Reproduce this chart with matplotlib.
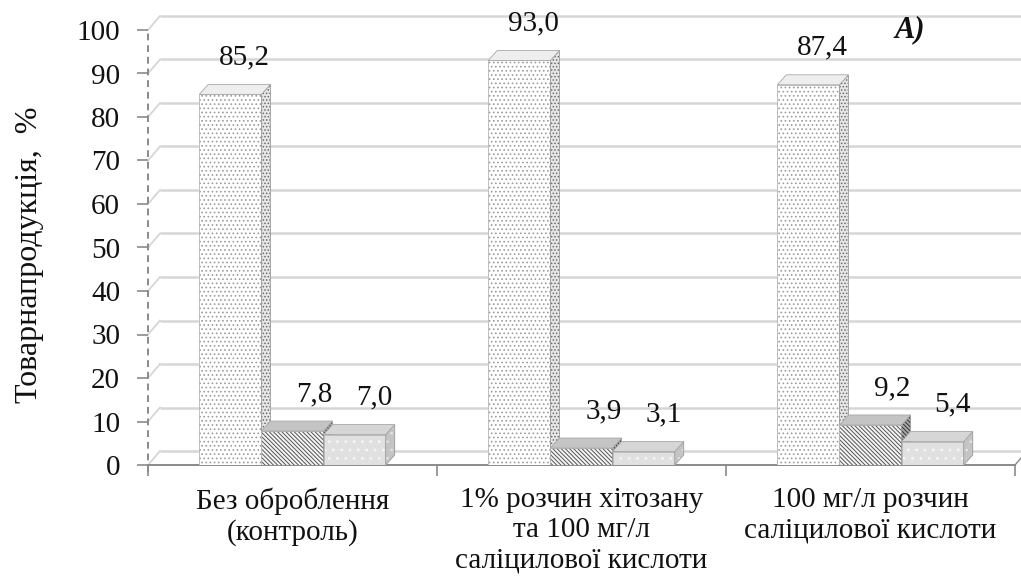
import matplotlib
matplotlib.use('Agg')
import matplotlib.pyplot as plt
from matplotlib.patches import Polygon, Rectangle

# ---- data ----
categories = ['Без оброблення\n(контроль)',
              '1% розчин хітозану\nта 100 мг/л\nсаліцилової кислоти',
              '100 мг/л розчин\nсаліцилової кислоти']
series_a = [85.2, 93.0, 87.4]
series_b = [7.8, 3.9, 9.2]
series_c = [7.0, 3.1, 5.4]
yticks = [0, 10, 20, 30, 40, 50, 60, 70, 80, 90, 100]
ylabel = 'Товарнапродукція,  %'
panel_label = 'A)'

plt.rcParams['font.family'] = ['Liberation Serif', 'DejaVu Serif']
plt.rcParams['hatch.linewidth'] = 0.7

W, H = 1021, 582
fig = plt.figure(figsize=(W / 100, H / 100), dpi=100)
x_left_px, x_right_px, y0_px, y100_px = 148, 1015, 465, 30
ax = fig.add_axes([x_left_px / W, 1 - y0_px / H,
                   (x_right_px - x_left_px) / W, (y0_px - y100_px) / H])
ax.set_xlim(-0.5, 2.5)
ax.set_ylim(0, 100)
for s in ax.spines.values():
    s.set_visible(False)

# conversions px -> data
pxx = (x_right_px - x_left_px) / 3.0
pxy = (y0_px - y100_px) / 100.0
wall_dx, wall_dy = 12 / pxx, 14 / pxy
bar_dx, bar_dy = 9 / pxx, 10 / pxy

grid_col = '#d6d6d6'
axis_col = '#8a8a8a'

# back wall gridlines + diagonals
for v in yticks:
    ax.plot([-0.5 + wall_dx, 3.0], [v + wall_dy, v + wall_dy], color=grid_col,
            lw=1.8, clip_on=False, zorder=1, solid_capstyle='butt')
    ax.plot([-0.5, -0.5 + wall_dx], [v, v + wall_dy], color=grid_col,
            lw=1.3, clip_on=False, zorder=1)
# floor right edge
ax.plot([2.5, 2.5 + wall_dx], [0, wall_dy], color=axis_col, lw=1.0,
        clip_on=False, zorder=1)

# axes lines
ax.plot([-0.5, -0.5], [-1.5, 100], color=axis_col, lw=1.4, ls=(0, (3.5, 2.5)),
        clip_on=False, zorder=2)
ax.plot([-0.5, 2.5], [0, 0], color=axis_col, lw=1.4, clip_on=False, zorder=2)

# bars
w = 0.215
styles = [
    dict(face='white', hatch='....', hcol='#9c9c9c', side='#e6e6e6', shatch='.....', scol='#6a6a6a', top='#eeeeee'),
    dict(face='#f4f4f4', hatch='\\\\\\\\\\\\\\\\', hcol='#555555', side='#a8a8a8', shatch='\\\\\\\\\\\\\\\\', scol='#333333', top='#c4c4c4'),
    dict(face='#e0e0e0', hatch='..', hcol='#f8f8f8', side='#c4c4c4', shatch='..', scol='#e4e4e4', top='#d6d6d6'),
]
all_series = [series_a, series_b, series_c]
label_dx_px = [14, 22, 20]

for i in range(len(categories)):
    for k, (vals, st) in enumerate(zip(all_series, styles)):
        v = vals[i]
        xc = i + (k - 1) * w
        xl, xr = xc - w / 2, xc + w / 2
        front = Rectangle((xl, 0), w, v, facecolor=st['face'], edgecolor=st['hcol'],
                          hatch=st['hatch'], lw=0, zorder=3 + k)
        ax.add_patch(front)
        ax.add_patch(Rectangle((xl, 0), w, v, fill=False, edgecolor='#b5b5b5', lw=0.6, zorder=3 + k))
        side = Polygon([(xr, 0), (xr + bar_dx, bar_dy), (xr + bar_dx, v + bar_dy), (xr, v)],
                       closed=True, facecolor=st['side'], edgecolor=st['scol'],
                       hatch=st['shatch'], lw=0, zorder=3 + k)
        ax.add_patch(side)
        ax.add_patch(Polygon([(xr, 0), (xr + bar_dx, bar_dy), (xr + bar_dx, v + bar_dy), (xr, v)],
                             closed=True, fill=False, edgecolor='#9a9a9a', lw=0.6, zorder=3 + k))
        top = Polygon([(xl, v), (xl + bar_dx, v + bar_dy), (xr + bar_dx, v + bar_dy), (xr, v)],
                      closed=True, facecolor=st['top'], edgecolor='#a8a8a8', lw=0.6, zorder=3 + k)
        ax.add_patch(top)
        ax.annotate(f'{v:.1f}'.replace('.', ','), xy=(xc, v),
                    xytext=(label_dx_px[k] * 0.72, 30 * 0.72), textcoords='offset points',
                    ha='center', va='baseline', fontsize=21, color='#111111', zorder=10)

# ticks
ax.set_yticks(yticks)
ax.set_yticklabels([str(t) for t in yticks], fontsize=21, color='#111111')
ax.tick_params(axis='y', length=8, width=1.2, color=axis_col, pad=12, direction='out')
ax.set_xticks(range(len(categories)))
ax.set_xticklabels(categories, fontsize=21, color='#111111', linespacing=1.2)
ax.tick_params(axis='x', length=0, pad=16)
ax.set_xticks([-0.5, 0.5, 1.5, 2.5], minor=True)
ax.tick_params(axis='x', which='minor', length=8, width=1.2, color=axis_col, direction='out')

fig.text(30 / W, 1 - 255 / H, ylabel, rotation=90, ha='center', va='center',
         fontsize=23, color='#111111')
fig.text(910 / W, 1 - 30 / H, panel_label, ha='center', va='center', fontsize=22,
         fontweight='bold', fontstyle='italic', color='#111111')

fig.savefig('out.png', dpi=100)
